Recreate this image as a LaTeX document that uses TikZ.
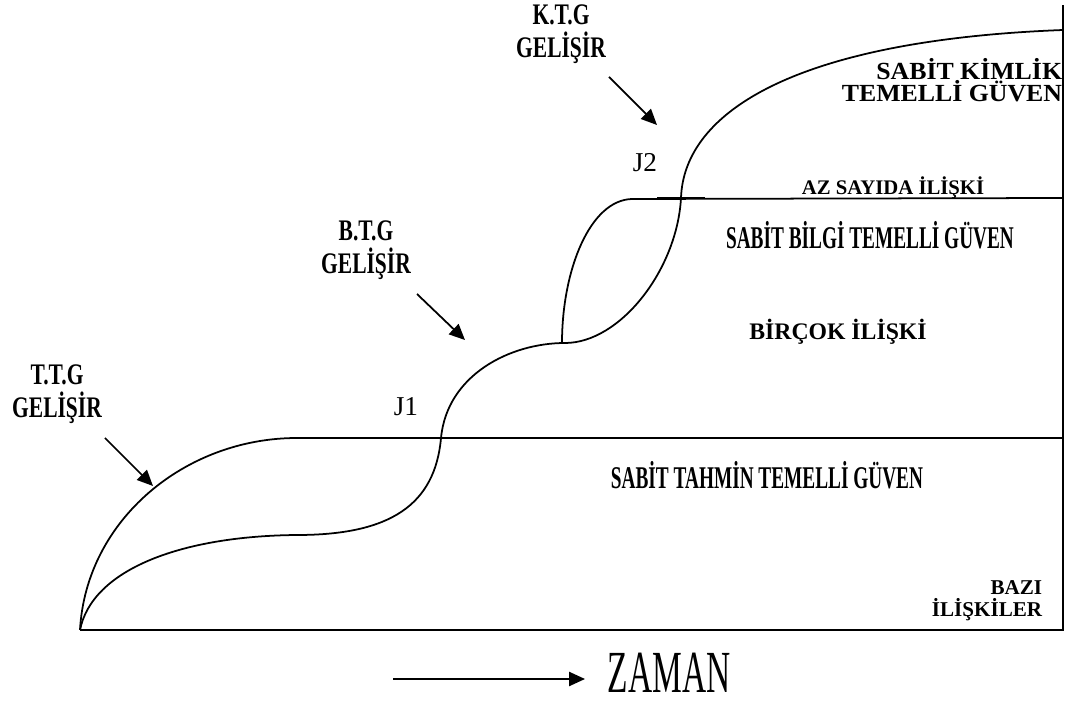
\documentclass[tikz,border=0pt]{standalone}
\usepackage{fontspec}
\setmainfont{Liberation Serif}
\newfontfamily\wideb[FakeStretch=1.05]{Liberation Serif Bold}
\newfontfamily\semib[FakeStretch=0.72]{Liberation Serif Bold}
\newfontfamily\narrowb[FakeStretch=0.61]{Liberation Serif Bold}
\newfontfamily\tallfont[FakeStretch=0.56]{Liberation Serif}
\usetikzlibrary{arrows.meta}

\begin{document}
\begin{tikzpicture}[
  x=0.02cm, y=-0.02cm, line width=1pt,
  grp/.style={font=\semib\fontsize{17}{18.5}\selectfont, align=center,
              inner sep=0pt},
  zone/.style={font=\narrowb\fontsize{18}{20}\selectfont, inner sep=0pt},
  rel/.style={font=\bfseries\fontsize{12}{12.5}\selectfont, inner sep=0pt},
  jlab/.style={font=\fontsize{15.5}{18}\selectfont, inner sep=0pt},
  arr/.style={-{Triangle[length=9pt, width=8pt]}, line width=1pt}
]
  \useasboundingbox (0,0) rectangle (1076,709);

  \coordinate (o) at (80,630);
  \coordinate (br) at (1063,630);
  \coordinate (tr) at (1063,5);
  \coordinate (p1) at (297,438);
  \coordinate (e1) at (1063,438);
  \coordinate (q1) at (297,535);
  \coordinate (c1) at (441,438);
  \coordinate (q2) at (565,343);
  \coordinate (c2) at (681,198);
  \coordinate (top) at (1063,30);
  \coordinate (l0) at (562,343);
  \coordinate (p2) at (632,199);
  \coordinate (e2) at (1063,198);

  \draw (o) -- (br) -- (tr);
  \draw (o) .. controls (86,520) and (185,438) .. (p1) -- (e1);
  \draw (o) .. controls (92,570) and (180,536) .. (q1)
            .. controls (390,535) and (435,505) .. (c1)
            .. controls (447,375) and (510,343) .. (q2)
            .. controls (620,343) and (677,270) .. (c2)
            .. controls (684,110) and (800,40) .. (top);
  \draw (l0) .. controls (562,270) and (590,200) .. (p2) -- (e2);
  \draw[line width=1.6pt] (657,198) -- (705,198);

  \node[grp] (ttg) at (57,394) {T.T.G\\GELİŞİR};
  \node[grp] (btg) at (366,250) {B.T.G\\GELİŞİR};
  \node[grp] (ktg) at (561,34) {K.T.G\\GELİŞİR};
  \coordinate (ttga) at (105,438);
  \coordinate (ttgb) at (153,486);
  \coordinate (btga) at (417,294);
  \coordinate (btgb) at (465,340);
  \coordinate (ktga) at (609,77);
  \coordinate (ktgb) at (657,125);
  \draw[arr] (ttga) -- (ttgb);
  \draw[arr] (btga) -- (btgb);
  \draw[arr] (ktga) -- (ktgb);

  \node[jlab] (j1) at (406,407) {J1};
  \node[jlab] (j2) at (645,163) {J2};

  \node[font=\wideb\fontsize{14}{12.8}\selectfont, align=right,
        inner sep=0pt, anchor=east] (kimlik) at (1063,80)
    {SABİT KİMLİK\\TEMELLİ GÜVEN};
  \node[font=\bfseries\fontsize{11.8}{13}\selectfont, inner sep=0pt]
    (az) at (893,188) {AZ SAYIDA İLİŞKİ};
  \node[zone] (bilgi) at (870,235) {SABİT BİLGİ TEMELLİ GÜVEN};
  \node[font=\bfseries\fontsize{13.5}{15}\selectfont, inner sep=0pt]
    (bircok) at (838,332) {BİRÇOK İLİŞKİ};
  \node[zone] (tahmin) at (767,475) {SABİT TAHMİN TEMELLİ GÜVEN};
  \node[rel, align=right, anchor=east] (bazi) at (1043,601)
    {BAZI\\İLİŞKİLER};

  \node[font=\tallfont\fontsize{34}{36}\selectfont, inner sep=0pt]
    (zaman) at (669,673) {ZAMAN};
  \coordinate (za) at (393,679);
  \coordinate (zb) at (585,679);
  \draw[arr] (za) -- (zb);
\end{tikzpicture}
\end{document}
